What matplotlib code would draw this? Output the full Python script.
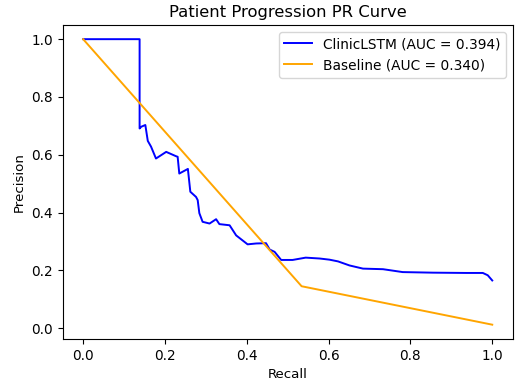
"""Patient progression precision-recall curve, ClinicLSTM vs baseline."""

import matplotlib
matplotlib.use("Agg")
import matplotlib.pyplot as plt

# ─── Data ────────────────────────────────────────────────────────────────────

model_recall = [
    0.0, 0.138, 0.138, 0.142, 0.152, 0.158, 0.166, 0.178, 0.203, 0.227,
    0.231, 0.235, 0.256, 0.262, 0.276, 0.280, 0.284, 0.292, 0.309, 0.325,
    0.333, 0.358, 0.374, 0.402, 0.423, 0.447, 0.456, 0.468, 0.484, 0.512,
    0.544, 0.578, 0.602, 0.623, 0.651, 0.684, 0.733, 0.781, 0.855, 0.936,
    0.977, 0.989, 1.0,
]
model_precision = [
    1.0, 1.0, 0.691, 0.697, 0.703, 0.648, 0.628, 0.587, 0.610, 0.595,
    0.593, 0.535, 0.551, 0.472, 0.454, 0.443, 0.398, 0.368, 0.362, 0.377,
    0.360, 0.356, 0.321, 0.290, 0.293, 0.294, 0.272, 0.264, 0.236, 0.236,
    0.244, 0.241, 0.237, 0.231, 0.217, 0.206, 0.204, 0.194, 0.192, 0.191,
    0.191, 0.183, 0.165,
]

baseline_recall = [0.0, 0.534, 1.0]
baseline_precision = [1.0, 0.145, 0.012]

model_auc = 0.394
baseline_auc = 0.340


def main() -> None:
    fig, ax = plt.subplots(figsize=(5.16, 3.83), dpi=100)
    fig.subplots_adjust(left=0.1215, right=0.9936, bottom=0.115, top=0.935)

    ax.plot(model_recall, model_precision, color="blue", linewidth=1.4,
            label=f"ClinicLSTM (AUC = {model_auc:.3f})")
    ax.plot(baseline_recall, baseline_precision, color="orange", linewidth=1.4,
            label=f"Baseline (AUC = {baseline_auc:.3f})")

    ax.set_title("Patient Progression PR Curve", fontsize=11.8)
    ax.set_xlabel("Recall", fontsize=9.6)
    ax.set_ylabel("Precision", fontsize=9.6)
    ax.tick_params(labelsize=9.8)
    ax.legend(loc="upper right", fontsize=9.9)

    fig.savefig("out.png", dpi=100)
    plt.close(fig)


if __name__ == "__main__":
    main()
